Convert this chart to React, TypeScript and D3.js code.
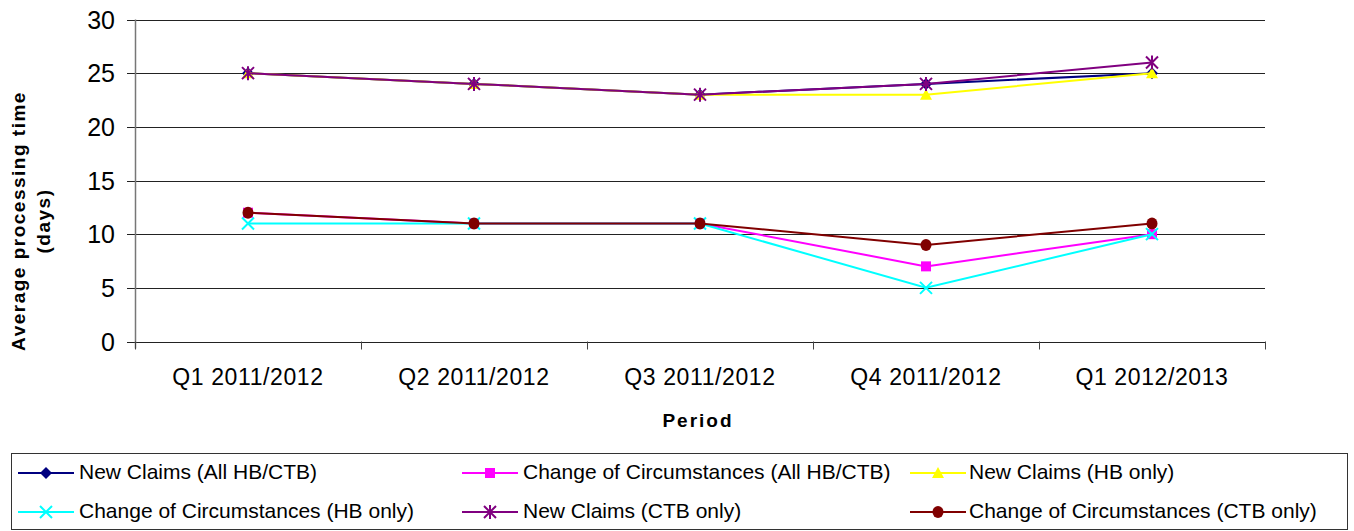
import React from "react";
import * as d3 from "d3";

const categories = ["Q1 2011/2012", "Q2 2011/2012", "Q3 2011/2012", "Q4 2011/2012", "Q1 2012/2013"];
const newClaimsAll = [25, 24, 23, 24, 25];
const cocAll = [12, 11, 11, 7, 10];
const newClaimsHB = [25, 24, 23, 23, 25];
const cocHB = [11, 11, 11, 5, 10];
const newClaimsCTB = [25, 24, 23, 24, 26];
const cocCTB = [12, 11, 11, 9, 11];
const yTicks = [0, 5, 10, 15, 20, 25, 30];

const seriesNames = [
  "New Claims (All HB/CTB)",
  "Change of Circumstances (All HB/CTB)",
  "New Claims (HB only)",
  "Change of Circumstances (HB only)",
  "New Claims (CTB only)",
  "Change of Circumstances (CTB only)",
];
const seriesValues = [newClaimsAll, cocAll, newClaimsHB, cocHB, newClaimsCTB, cocCTB];
const seriesColors = ["#000080", "#FF00FF", "#FFFF00", "#00FFFF", "#800080", "#800000"];
const seriesMarkers = ["diamond", "square", "triangle", "x", "star", "circle"];

const W = 1354, H = 531;
const left = 135, right = 1265, top = 19.5, bottom = 341.5;
const FONT = "'Liberation Sans', Arial, sans-serif";

function Marker({ type, x, y, color }: { type: string; x: number; y: number; color: string }) {
  const s = 6;
  switch (type) {
    case "diamond":
      return <path d={`M${x},${y - s}L${x + s},${y}L${x},${y + s}L${x - s},${y}Z`} fill={color} />;
    case "square":
      return <rect x={x - 5} y={y - 5} width={10} height={10} fill={color} />;
    case "triangle":
      return <path d={`M${x},${y - 6}L${x + 6},${y + 5}L${x - 6},${y + 5}Z`} fill={color} />;
    case "x":
      return (
        <path d={`M${x - 6},${y - 6}L${x + 6},${y + 6}M${x - 6},${y + 6}L${x + 6},${y - 6}`} stroke={color} strokeWidth={2} />
      );
    case "star":
      return (
        <path
          d={`M${x - 6},${y - 6}L${x + 6},${y + 6}M${x - 6},${y + 6}L${x + 6},${y - 6}M${x},${y - 7}L${x},${y + 7}`}
          stroke={color}
          strokeWidth={2}
        />
      );
    case "circle":
      return <ellipse cx={x} cy={y} rx={5.5} ry={6} fill={color} />;
  }
  return null;
}

export default function App() {
  const x = d3.scaleBand<string>().domain(categories).range([left, right]);
  const y = d3.scaleLinear().domain([0, 30]).range([bottom, top]);
  const cx = (c: string) => (x(c) as number) + x.bandwidth() / 2;
  const line = d3
    .line<number>()
    .x((_, i) => cx(categories[i]))
    .y((d) => y(d));

  const boundaries = categories.map((c) => x(c) as number).concat([right]);

  const legendCols = [
    { lx: 18, tx: 79 },
    { lx: 462, tx: 523 },
    { lx: 910, tx: 969 },
  ];
  const legendRows = [473, 512];

  return (
    <svg width={W} height={H} style={{ position: "absolute", left: 0, top: 0, background: "#fff" }} fontFamily={FONT}>
      {/* gridlines */}
      {yTicks.map((t) => (
        <g key={t}>
          <line x1={left - 8} x2={right} y1={Math.round(y(t)) + 0.5} y2={Math.round(y(t)) + 0.5} stroke="#222" strokeWidth={1} />
          <text x={115} y={y(t)} dy="0.36em" textAnchor="end" fontSize={25} fill="#000">
            {t}
          </text>
        </g>
      ))}
      {/* y axis line */}
      <line x1={left + 0.5} x2={left + 0.5} y1={top} y2={bottom + 7} stroke="#777" strokeWidth={1.5} />
      {/* x ticks */}
      {boundaries.map((b, i) => (
        <line key={i} x1={b + 0.5} x2={b + 0.5} y1={bottom} y2={bottom + 8} stroke="#444" strokeWidth={1} />
      ))}
      {categories.map((c) => (
        <text key={c} x={cx(c)} y={385} textAnchor="middle" fontSize={23} letterSpacing={0.6} fill="#000">
          {c}
        </text>
      ))}
      <text x={698} y={427} textAnchor="middle" fontSize={19} fontWeight="bold" letterSpacing={2} fill="#000">
        Period
      </text>
      <g transform="translate(0,221) rotate(-90)">
        <text x={0} y={25} textAnchor="middle" fontSize={19} fontWeight="bold" letterSpacing={1.5} fill="#000">
          Average processing time
        </text>
        <text x={0} y={50} textAnchor="middle" fontSize={19} fontWeight="bold" letterSpacing={1.5} fill="#000">
          (days)
        </text>
      </g>
      {/* series */}
      {seriesValues.map((vals, si) => (
        <g key={si}>
          <path d={line(vals) as string} fill="none" stroke={seriesColors[si]} strokeWidth={2} />
          {vals.map((v, i) => (
            <Marker key={i} type={seriesMarkers[si]} x={cx(categories[i])} y={y(v)} color={seriesColors[si]} />
          ))}
        </g>
      ))}
      {/* legend */}
      <rect x={11.5} y={453.5} width={1336} height={76} fill="none" stroke="#333" strokeWidth={1} />
      {seriesNames.map((n, i) => {
        const col = legendCols[i % 3];
        const ry = legendRows[Math.floor(i / 3)];
        return (
          <g key={n}>
            <line x1={col.lx} x2={col.lx + 56} y1={ry} y2={ry} stroke={seriesColors[i]} strokeWidth={2} />
            <Marker type={seriesMarkers[i]} x={col.lx + 28} y={ry} color={seriesColors[i]} />
            <text x={col.tx} y={ry} dy="0.3em" fontSize={21} fill="#000">
              {n}
            </text>
          </g>
        );
      })}
    </svg>
  );
}
